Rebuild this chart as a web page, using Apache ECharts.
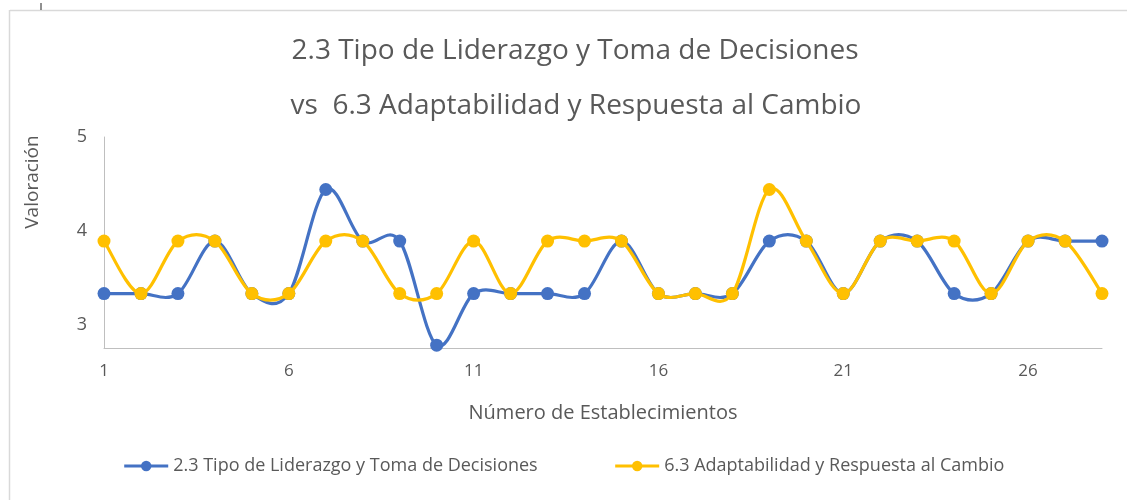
<!DOCTYPE html>
<html>
<head>
<meta charset="utf-8">
<script src="https://cdn.jsdelivr.net/npm/echarts@6/dist/echarts.min.js"></script>
<style>html,body{margin:0;padding:0;background:#fff;}#c{width:1127px;height:500px;}</style>
</head>
<body>
<div id="c"></div>
<script>
const categories = ['1','2','3','4','5','6','7','8','9','10','11','12','13','14','15','16','17','18','19','20','21','22','23','24','25','26','27','28'];
const seriesNames = ['2.3 Tipo de Liderazgo y Toma de Decisiones', '6.3 Adaptabilidad y Respuesta al Cambio'];
const liderazgo = [3.33,3.33,3.33,3.89,3.33,3.33,4.44,3.89,3.89,2.78,3.33,3.33,3.33,3.33,3.89,3.33,3.33,3.33,3.89,3.89,3.33,3.89,3.89,3.33,3.33,3.89,3.89,3.89];
const adaptabilidad = [3.89,3.33,3.89,3.89,3.33,3.33,3.89,3.89,3.33,3.33,3.89,3.33,3.89,3.89,3.89,3.33,3.33,3.33,4.44,3.89,3.33,3.89,3.89,3.89,3.33,3.89,3.89,3.33];
const yTickLabels = [3, 4, 5];
const titleLines = ['2.3 Tipo de Liderazgo y Toma de Decisiones', 'vs  6.3 Adaptabilidad y Respuesta al Cambio'];

const FONT = 'Open Sans';
const GREY = '#595959';
const BLUE = '#4472C4';
const YELLOW = '#FFC000';

// Excel-like smoothed segment (Catmull-Rom style Bezier) between point i and i+1,
// positions obtained from the chart's own scales via api.coord.
function smoothSegment(values, color) {
  return function (params, api) {
    const i = params.dataIndex;
    if (i >= values.length - 1) return null;
    const n = values.length;
    const p = k => {
      const kk = Math.max(0, Math.min(n - 1, k));
      return api.coord([kk, values[kk]]);
    };
    const p0 = p(i - 1), p1 = p(i), p2 = p(i + 1), p3 = p(i + 2);
    const t = 1 / 6;
    return {
      type: 'bezierCurve',
      shape: {
        x1: p1[0], y1: p1[1], x2: p2[0], y2: p2[1],
        cpx1: p1[0] + (p2[0] - p0[0]) * t, cpy1: p1[1] + (p2[1] - p0[1]) * t,
        cpx2: p2[0] - (p3[0] - p1[0]) * t, cpy2: p2[1] - (p3[1] - p1[1]) * t
      },
      style: {stroke: color, lineWidth: 3.2, fill: null, lineCap: 'round', lineJoin: 'round'},
      silent: true
    };
  };
}

const chart = echarts.init(document.getElementById('c'), null, {renderer: 'canvas'});
chart.setOption({
  animation: false,
  backgroundColor: '#fff',
  textStyle: {fontFamily: FONT},
  title: [
    {text: titleLines[0], left: 570, top: 32, textAlign: 'center', textStyle: {fontFamily: FONT, fontSize: 28, fontWeight: 'normal', color: GREY}},
    {text: titleLines[1], left: 571, top: 87, textAlign: 'center', textStyle: {fontFamily: FONT, fontSize: 28, fontWeight: 'normal', color: GREY}}
  ],
  legend: {
    bottom: 20,
    left: 'center',
    itemGap: 76,
    itemWidth: 44,
    itemHeight: 13,
    textStyle: {fontFamily: FONT, fontSize: 18, color: GREY},
    lineStyle: {opacity: 1, width: 3},
    data: seriesNames
  },
  grid: {left: 104, right: 25, top: 137, bottom: 152, containLabel: false},
  xAxis: {
    type: 'category',
    data: categories,
    boundaryGap: false,
    axisLine: {lineStyle: {color: '#bfbfbf', width: 1}},
    axisTick: {show: false},
    axisLabel: {interval: 4, color: GREY, fontSize: 17, fontFamily: FONT, margin: 15},
    name: 'Número de Establecimientos',
    nameLocation: 'middle',
    nameGap: 55,
    nameTextStyle: {color: GREY, fontSize: 20, fontFamily: FONT}
  },
  yAxis: {
    type: 'value',
    min: 2.75,
    max: 5,
    interval: 0.25,
    axisLine: {show: true, lineStyle: {color: '#bfbfbf', width: 1}},
    axisTick: {show: false},
    splitLine: {show: false},
    axisLabel: {
      color: GREY, fontSize: 18, fontFamily: FONT, margin: 17,
      formatter: v => (yTickLabels.indexOf(Math.round(v * 100) / 100) >= 0 ? String(v) : '')
    }
  },
  graphic: [
    {type: 'line', shape: {x1: 10, y1: 10.5, x2: 1127, y2: 10.5}, style: {stroke: '#d9d9d9', lineWidth: 1.5}, silent: true},
    {type: 'line', shape: {x1: 9.5, y1: 10, x2: 9.5, y2: 500}, style: {stroke: '#d9d9d9', lineWidth: 1.5}, silent: true},
    {type: 'line', shape: {x1: 41, y1: 3, x2: 41, y2: 10}, style: {stroke: '#222', lineWidth: 1}, silent: true},
    {type: 'text', x: 33, y: 182, rotation: Math.PI / 2,
     style: {text: 'Valoración', fill: GREY, fontSize: 19, fontFamily: FONT, textAlign: 'center', textVerticalAlign: 'middle'}}
  ],
  series: [
    {
      name: seriesNames[0], type: 'line', data: liderazgo, z: 3,
      symbol: 'circle', symbolSize: 13,
      lineStyle: {color: BLUE, width: 3, opacity: 0},
      itemStyle: {color: BLUE}
    },
    {
      name: seriesNames[1], type: 'line', data: adaptabilidad, z: 5,
      symbol: 'circle', symbolSize: 13,
      lineStyle: {color: YELLOW, width: 3, opacity: 0},
      itemStyle: {color: YELLOW}
    },
    {
      name: seriesNames[0], type: 'custom', z: 2, clip: false,
      data: liderazgo.map((v, i) => [i, v]),
      encode: {x: 0, y: 1},
      renderItem: smoothSegment(liderazgo, BLUE)
    },
    {
      name: seriesNames[1], type: 'custom', z: 4, clip: false,
      data: adaptabilidad.map((v, i) => [i, v]),
      encode: {x: 0, y: 1},
      renderItem: smoothSegment(adaptabilidad, YELLOW)
    }
  ]
});
</script>
</body>
</html>
